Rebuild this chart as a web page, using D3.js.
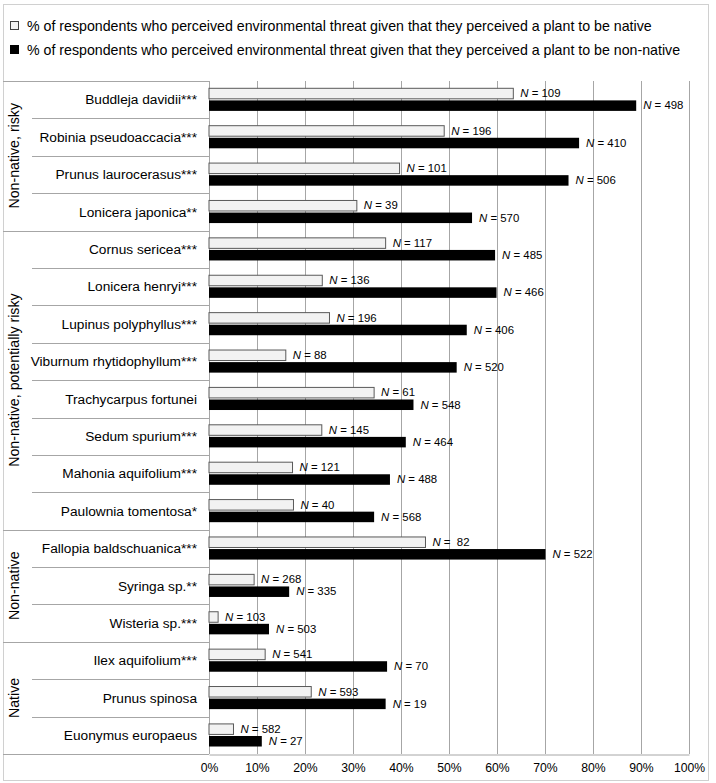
<!DOCTYPE html>
<html>
<head>
<meta charset="utf-8">
<script src="https://cdn.jsdelivr.net/npm/d3@7"></script>
<style>
  html, body { margin: 0; padding: 0; background: #fff; }
  text { font-family: "Liberation Sans", Arial, sans-serif; fill: #000; }
</style>
</head>
<body>
<svg id="chart" width="716" height="783"></svg>
<script>
const categories = [
  "Buddleja davidii***", "Robinia pseudoaccacia***", "Prunus laurocerasus***", "Lonicera japonica**",
  "Cornus sericea***", "Lonicera henryi***", "Lupinus polyphyllus***", "Viburnum rhytidophyllum***",
  "Trachycarpus fortunei", "Sedum spurium***", "Mahonia aquifolium***", "Paulownia tomentosa*",
  "Fallopia baldschuanica***", "Syringa sp.**", "Wisteria sp.***",
  "Ilex aquifolium***", "Prunus spinosa", "Euonymus europaeus"
];
const groups = [
  { name: "Non-native, risky", count: 4 },
  { name: "Non-native, potentially risky", count: 8 },
  { name: "Non-native", count: 3 },
  { name: "Native", count: 3 }
];
const nativeValues = [63.4, 49.0, 39.7, 30.8, 36.8, 23.6, 25.1, 16.0, 34.4, 23.5, 17.4, 17.6, 45.1, 9.4, 1.9, 11.7, 21.3, 5.1];
const nonNativeValues = [89.0, 77.1, 74.9, 54.8, 59.6, 59.9, 53.7, 51.6, 42.6, 41.0, 37.7, 34.4, 70.1, 16.7, 12.5, 37.1, 36.8, 11.0];
const nativeN = ["109", "196", "101", "39", "117", "136", "196", "88", "61", "145", "121", "40", " 82", "268", "103", "541", "593", "582"];
const nonNativeN = ["498", "410", "506", "570", "485", "466", "406", "520", "548", "464", "488", "568", "522", "335", "503", "70", "19", "27"];
const xTicks = [0, 10, 20, 30, 40, 50, 60, 70, 80, 90, 100];
const legendLabels = [
  "% of respondents who perceived environmental threat given that they perceived a plant to be native",
  "% of respondents who perceived environmental threat given that they perceived a plant to be non-native"
];

const svg = d3.select("#chart");
const plotLeft = 209, plotRight = 689, plotTop = 81, plotBottom = 754;
const tableLeft = 3, groupColRight = 32;

const x = d3.scaleLinear().domain([0, 100]).range([plotLeft, plotRight]);
const y = d3.scaleBand().domain(categories).range([plotTop, plotBottom]).padding(0);
const inner = d3.scaleBand().domain(["native", "nonnative"]).range([7.3, 29.9]).paddingInner(0.13);

// outer frame
svg.append("rect").attr("x", 3.5).attr("y", 4.5).attr("width", 705).attr("height", 776)
  .attr("fill", "none").attr("stroke", "#d0d0d0").attr("stroke-width", 1);

// legend
const legend = svg.append("g");
legendLabels.forEach((t, i) => {
  const ly = 26 + i * 24;
  legend.append("rect").attr("x", 10.5).attr("y", ly - 4.5).attr("width", 8).attr("height", 8)
    .attr("fill", i === 0 ? "#f2f2f2" : "#000").attr("stroke", i === 0 ? "#404040" : "#000").attr("stroke-width", 1);
  legend.append("text").attr("x", 27).attr("y", ly).attr("dy", "0.35em")
    .attr("font-size", "14.2px").text(t);
});

// grid lines
svg.append("g").selectAll("line").data(xTicks.slice(1)).join("line")
  .attr("x1", d => Math.round(x(d)) + 0.5).attr("x2", d => Math.round(x(d)) + 0.5)
  .attr("y1", plotTop).attr("y2", plotBottom)
  .attr("stroke", "#a6a6a6").attr("stroke-width", 1);

// x axis
const xAxis = svg.append("g").attr("transform", `translate(0,${plotBottom + 0.5})`)
  .call(d3.axisBottom(x).tickValues(xTicks).tickFormat(d => d + "%").tickSize(0).tickPadding(9));
xAxis.select(".domain").attr("stroke", "#a6a6a6");
xAxis.selectAll("text").attr("font-size", "12.2px")
  .attr("font-family", "'Liberation Sans', Arial, sans-serif");

// category table
const table = svg.append("g");
const lineColor = "#a6a6a6";
table.append("line").attr("x1", tableLeft).attr("x2", plotLeft).attr("y1", plotTop + 0.5).attr("y2", plotTop + 0.5).attr("stroke", lineColor);
table.append("line").attr("x1", tableLeft).attr("x2", plotLeft).attr("y1", plotBottom + 0.5).attr("y2", plotBottom + 0.5).attr("stroke", lineColor);
table.append("line").attr("x1", plotLeft + 0.5).attr("x2", plotLeft + 0.5).attr("y1", plotTop).attr("y2", plotBottom).attr("stroke", lineColor);

let idx = 0;
const groupStarts = new Set();
groups.forEach(g => {
  const top = y(categories[idx]);
  const bottom = y(categories[idx + g.count - 1]) + y.bandwidth();
  groupStarts.add(idx);
  table.append("text")
    .attr("transform", `translate(14,${(top + bottom) / 2}) rotate(-90)`)
    .attr("text-anchor", "middle").attr("dy", "0.35em")
    .attr("font-size", "14.2px").text(g.name);
  idx += g.count;
});
categories.forEach((c, i) => {
  if (i === 0) return;
  const yy = Math.round(y(c)) + 0.5;
  table.append("line")
    .attr("x1", groupStarts.has(i) ? tableLeft : groupColRight).attr("x2", plotLeft)
    .attr("y1", yy).attr("y2", yy).attr("stroke", lineColor);
});
table.selectAll("text.cat").data(categories).join("text").attr("class", "cat")
  .attr("x", 197).attr("y", d => y(d) + y.bandwidth() / 2).attr("dy", "0.35em")
  .attr("text-anchor", "end").attr("font-size", "13.7px").text(d => d);

// bars
const rows = categories.map((c, i) => ({ c, nat: nativeValues[i], non: nonNativeValues[i], nN: nativeN[i], nnN: nonNativeN[i] }));
const barG = svg.append("g");
barG.selectAll("rect.nat").data(rows).join("rect").attr("class", "nat")
  .attr("x", x(0)).attr("y", d => y(d.c) + inner("native"))
  .attr("width", d => x(d.nat) - x(0)).attr("height", inner.bandwidth())
  .attr("fill", "#f2f2f2").attr("stroke", "#595959").attr("stroke-width", 1);
barG.selectAll("rect.non").data(rows).join("rect").attr("class", "non")
  .attr("x", x(0)).attr("y", d => y(d.c) + inner("nonnative"))
  .attr("width", d => x(d.non) - x(0)).attr("height", inner.bandwidth())
  .attr("fill", "#000");

function addLabel(sel, valKey, nKey, key) {
  const t = sel.append("text")
    .attr("x", d => x(d[valKey]) + 7)
    .attr("y", d => y(d.c) + inner(key) + inner.bandwidth() / 2)
    .attr("dy", "0.33em").attr("font-size", "11.4px").attr("xml:space", "preserve")
    .style("white-space", "pre");
  t.append("tspan").attr("font-style", "italic").text("N");
  t.append("tspan").text(d => " = " + d[nKey]);
}
addLabel(barG.selectAll("g.ln").data(rows).join("g").attr("class", "ln"), "nat", "nN", "native");
addLabel(barG.selectAll("g.lnn").data(rows).join("g").attr("class", "lnn"), "non", "nnN", "nonnative");
</script>
</body>
</html>
